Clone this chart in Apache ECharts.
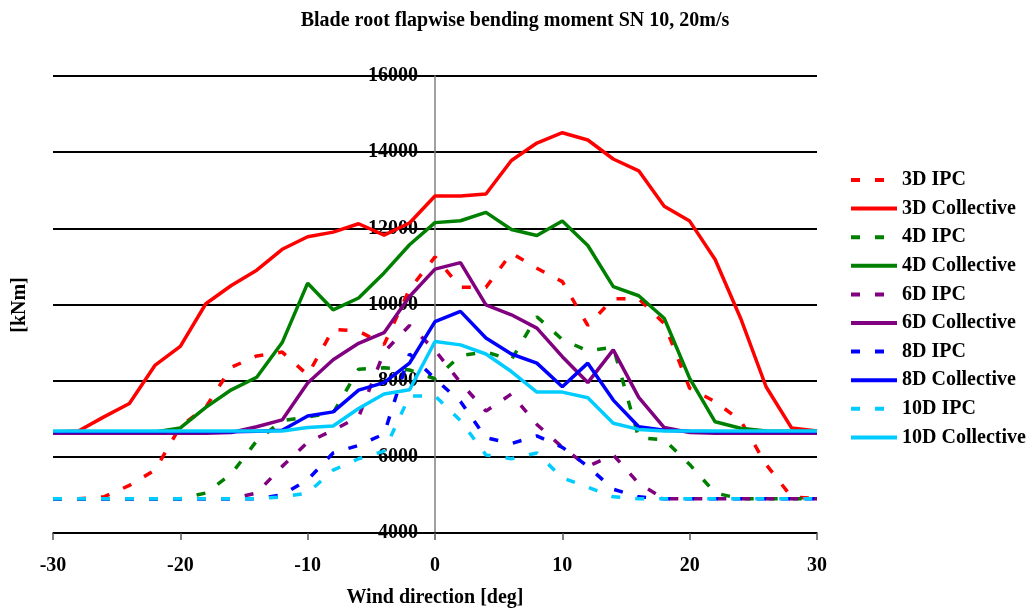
<!DOCTYPE html>
<html>
<head>
<meta charset="utf-8">
<script src="https://cdn.jsdelivr.net/npm/echarts@6/dist/echarts.min.js"></script>
<style>
html,body{margin:0;padding:0;background:#fff;}
#chart{width:1030px;height:610px;}
</style>
</head>
<body>
<div id="chart"></div>
<script>
const windDir = [-30,-28,-26,-24,-22,-20,-18,-16,-14,-12,-10,-8,-6,-4,-2,0,2,4,6,8,10,12,14,16,18,20,22,24,26,28,30];
const xTicks = [-30,-20,-10,0,10,20,30];
const yTicks = [4000,6000,8000,10000,12000,14000,16000];

const ipc3D  = [4900,4900,4950,5250,5650,6800,7300,8350,8650,8750,8150,9350,9300,8950,10400,11250,10450,10450,11350,10950,10600,9450,10150,10150,9500,7800,7450,6950,5800,4950,4900];
const col3D  = [6650,6680,7050,7400,8400,8900,10020,10500,10900,11450,11780,11900,12120,11820,12140,12850,12850,12900,13780,14240,14510,14320,13820,13510,12580,12190,11180,9640,7840,6760,6680];
const ipc4D  = [4900,4900,4900,4900,4900,4900,5050,5550,6420,6950,7050,7150,8300,8340,8280,8050,8660,8750,8550,9680,9080,8780,8880,6500,6450,5800,5050,4900,4900,4900,4900];
const col4D  = [6650,6650,6650,6650,6650,6760,7300,7760,8090,9000,10560,9860,10170,10830,11570,12150,12200,12420,11970,11810,12190,11550,10470,10230,9640,8060,6920,6750,6680,6670,6670];
const ipc6D  = [4900,4900,4900,4900,4900,4900,4900,4900,5050,5750,6380,6700,7050,8750,9450,8800,7950,7200,7650,6850,6250,5750,6050,5300,4900,4900,4900,4900,4900,4900,4900];
const col6D  = [6620,6620,6620,6620,6620,6620,6620,6640,6790,6970,7940,8550,8980,9260,10210,10930,11100,9990,9730,9380,8630,7950,8810,7560,6770,6640,6620,6620,6620,6620,6620];
const ipc8D  = [4900,4900,4900,4900,4900,4900,4900,4900,4900,5000,5400,6100,6300,6600,8700,8050,7450,6500,6350,6550,6250,5750,5150,4950,4900,4900,4900,4900,4900,4900,4900];
const col8D  = [6660,6660,6660,6660,6660,6660,6660,6660,6670,6700,7070,7180,7750,7950,8460,9550,9820,9120,8700,8460,7840,8460,7490,6790,6700,6670,6660,6660,6660,6660,6660];
const ipc10D = [4900,4900,4900,4900,4900,4900,4900,4900,4900,4950,5050,5650,5950,6150,7600,7600,6950,6050,5950,6100,5450,5200,4950,4900,4900,4900,4900,4900,4900,4900,4900];
const col10D = [6680,6680,6680,6680,6680,6680,6680,6680,6680,6680,6770,6810,7270,7650,7760,9030,8940,8700,8240,7700,7700,7550,6880,6720,6680,6680,6680,6680,6680,6680,6680];

const seriesNames = ['3D IPC','3D Collective','4D IPC','4D Collective','6D IPC','6D Collective','8D IPC','8D Collective','10D IPC','10D Collective'];
const seriesValues = [ipc3D,col3D,ipc4D,col4D,ipc6D,col6D,ipc8D,col8D,ipc10D,col10D];
const seriesColors = ['#FF0000','#FF0000','#008000','#008000','#800080','#800080','#0000FF','#0000FF','#00CCFF','#00CCFF'];

const FONT = '"Liberation Serif","Times New Roman",serif';

const chart = echarts.init(document.getElementById('chart'), null, {renderer:'canvas'});

const series = seriesNames.map((name, i) => ({
  name: name,
  type: 'line',
  data: windDir.map((x, k) => [x, seriesValues[i][k]]),
  symbol: 'none',
  showSymbol: false,
  animation: false,
  lineStyle: {
    color: seriesColors[i],
    width: 3.5,
    type: name.indexOf('IPC') >= 0 ? [9, 15] : 'solid'
  },
  itemStyle: {color: seriesColors[i]},
  z: 2 + i
}));

chart.setOption({
  animation: false,
  backgroundColor: '#fff',
  title: {
    text: 'Blade root flapwise bending moment SN 10, 20m/s',
    left: 'center',
    top: 6,
    textStyle: {fontFamily: FONT, fontWeight: 'bold', fontSize: 20, color: '#000'}
  },
  grid: {left: 53, right: 213, top: 76, bottom: 77, containLabel: false, outerBoundsMode: 'none'},
  legend: {
    orient: 'vertical',
    left: 844,
    top: 165,
    itemWidth: 46,
    itemHeight: 14,
    itemGap: 8.6,
    data: seriesNames,
    itemStyle: {color: 'transparent', borderColor: 'transparent', borderWidth: 0, opacity: 0},
    lineStyle: {width: 4},
    textStyle: {fontFamily: FONT, fontWeight: 'bold', fontSize: 20, lineHeight: 20, color: '#000', padding: [0,0,0,0]}
  },
  xAxis: {
    type: 'value',
    min: -30, max: 30, interval: 10,
    axisLine: {show: true, onZero: false, lineStyle: {color: '#000', width: 1.5}},
    axisTick: {show: true, length: 7, inside: false, lineStyle: {color: '#555', width: 1.5}},
    axisLabel: {
      margin: 23,
      fontFamily: FONT, fontWeight: 'bold', fontSize: 20, color: '#000',
      formatter: v => xTicks.indexOf(v) >= 0 ? String(v) : ''
    },
    splitLine: {show: false}
  },
  yAxis: {
    type: 'value',
    position: 'left',
    offset: -382,
    min: 4000, max: 16000, interval: 2000,
    axisLine: {show: true, onZero: false, lineStyle: {color: '#808080', width: 1.5}},
    axisTick: {show: false},
    axisLabel: {
      margin: 17,
      fontFamily: FONT, fontWeight: 'bold', fontSize: 20, color: '#000',
      formatter: v => yTicks.indexOf(v) >= 0 ? String(v) : ''
    },
    splitLine: {show: true, lineStyle: {color: '#000', width: 2}}
  },
  graphic: [
    {
      type: 'text', x: 20, y: 305, rotation: Math.PI/2,
      style: {text: '[kNm]', fontFamily: FONT, fontWeight: 'bold', fontSize: 20, fill: '#000', textAlign: 'center', textVerticalAlign: 'middle'}
    },
    {
      type: 'text', x: 435, y: 598,
      style: {text: 'Wind direction [deg]', fontFamily: FONT, fontWeight: 'bold', fontSize: 20, fill: '#000', textAlign: 'center', textVerticalAlign: 'middle'}
    }
  ],
  series: series
});
</script>
</body>
</html>
